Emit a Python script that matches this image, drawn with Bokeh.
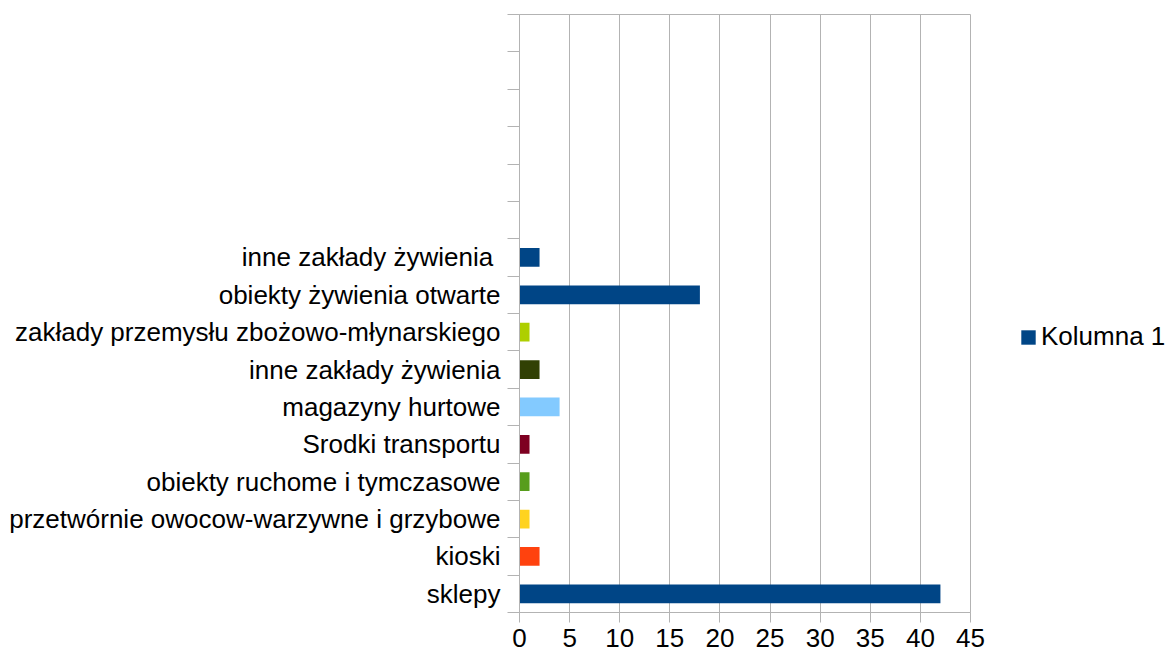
from bokeh.plotting import figure
from bokeh.layouts import row
from bokeh.models import ColumnDataSource, Range1d, FixedTicker, Legend, LegendItem
from bokeh.embed import file_html
from bokeh.resources import INLINE

categories = [
    "sklepy",
    "kioski",
    "przetwórnie owocow-warzywne i grzybowe",
    "obiekty ruchome i tymczasowe",
    "Srodki transportu",
    "magazyny hurtowe",
    "inne zakłady żywienia",
    "zakłady przemysłu zbożowo-młynarskiego",
    "obiekty żywienia otwarte",
    "inne zakłady żywienia ",
]
values = [42, 2, 1, 1, 1, 4, 2, 1, 18, 2]
colors = ["#004586", "#ff420e", "#ffd320", "#579d1c", "#7e0021",
          "#83caff", "#314004", "#aecf00", "#004586", "#004586"]
n_slots = 16
x_ticks = [0, 5, 10, 15, 20, 25, 30, 35, 40, 45]
series_name = "Kolumna 1"

FONT = "Liberation Sans"
GRID = "#b3b3b3"

ypos = [i + 0.5 for i in range(len(categories))]
src = ColumnDataSource(dict(y=ypos, v=values, c=colors, name=categories))

p = figure(width=990, height=657, min_border_left=519,
           min_border_right=20, min_border_top=14, min_border_bottom=45,
           x_range=Range1d(0, 45), y_range=Range1d(0, n_slots),
           output_backend="svg", toolbar_location=None)

r = p.hbar(y="y", right="v", left=0, height=0.5, fill_color="c",
           line_color=None, source=src)

p.outline_line_color = GRID
p.ygrid.visible = False
p.xgrid.grid_line_color = GRID
p.xgrid.ticker = FixedTicker(ticks=x_ticks)

xa = p.xaxis[0]
xa.ticker = FixedTicker(ticks=x_ticks)
xa.axis_line_color = GRID
xa.major_tick_line_color = GRID
xa.major_tick_out = 10
xa.major_tick_in = 0
xa.minor_tick_line_color = None
xa.major_label_standoff = 6
xa.major_label_text_font = FONT
xa.major_label_text_font_size = "26px"
xa.major_label_text_color = "black"

ya = p.yaxis[0]
ya.ticker = FixedTicker(ticks=ypos, minor_ticks=list(range(n_slots + 1)))
ya.major_label_overrides = {y: n for y, n in zip(ypos, categories)}
ya.axis_line_color = GRID
ya.major_tick_line_color = None
ya.major_tick_out = 0
ya.major_tick_in = 0
ya.minor_tick_line_color = GRID
ya.minor_tick_out = 12
ya.minor_tick_in = 0
ya.major_label_standoff = 7
ya.major_label_text_font = FONT
ya.major_label_text_font_size = "26px"
ya.major_label_text_color = "black"

# legend panel to the right of the chart
p2 = figure(width=177, height=657, min_border=0,
            x_range=Range1d(-2, -1), y_range=Range1d(0, n_slots),
            x_axis_location=None, y_axis_location=None,
            output_backend="svg", toolbar_location=None)
p2.outline_line_color = None
p2.grid.visible = False
r2 = p2.hbar(y="y", right="v", left=0, height=0.5, fill_color="c",
             line_color=None, source=src)

legend = Legend(items=[LegendItem(label=series_name, renderers=[r2], index=0)],
                location=(29, 260), orientation="vertical",
                glyph_width=18, glyph_height=18, label_standoff=4,
                padding=0, margin=0, spacing=0,
                border_line_color=None, background_fill_alpha=0,
                label_text_font=FONT, label_text_font_size="26px",
                label_text_color="black")
p2.add_layout(legend, "center")

layout = row(p, p2, spacing=0)
open("out.html", "w").write(file_html(layout, INLINE))
